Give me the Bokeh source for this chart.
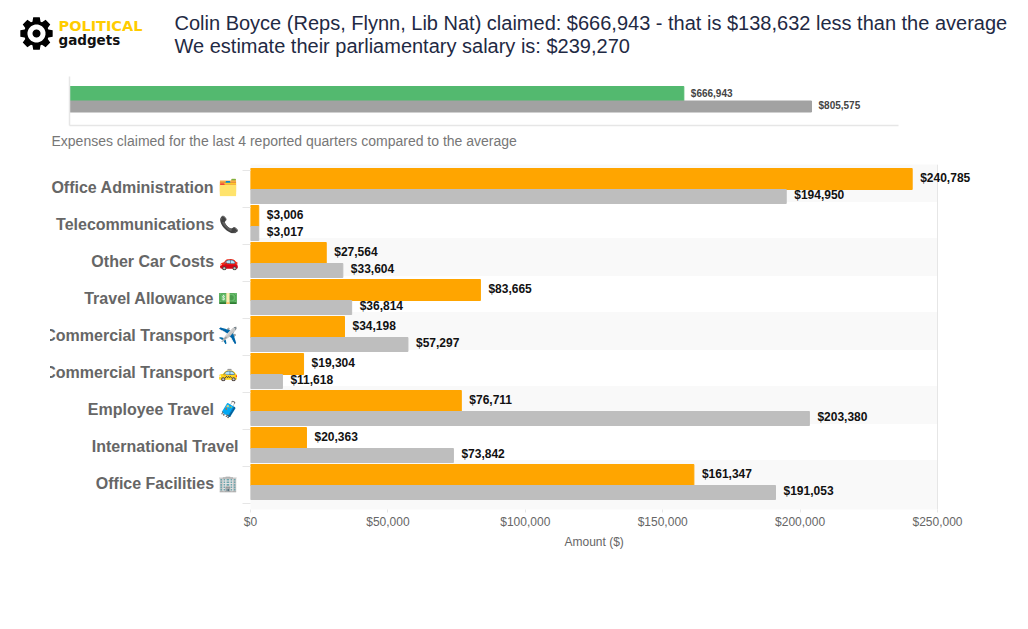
from bokeh.core.properties import value
from bokeh.embed import file_html
from bokeh.models import ColumnDataSource, FixedTicker, Label, NumeralTickFormatter, PolyAnnotation, Range1d, Title
from bokeh.plotting import figure
from bokeh.resources import INLINE
import math

FONT = "Liberation Sans"

total_values = [666943, 805575]
total_text = ["$666,943", "$805,575"]

categories = [
    "Office Administration 🗂️",
    "Telecommunications 📞",
    "Other Car Costs 🚗",
    "Travel Allowance 💵",
    "Commercial Transport ✈️",
    "Commercial Transport 🚕",
    "Employee Travel 🧳",
    "International Travel",
    "Office Facilities 🏢",
]
mp_values = [240785, 3006, 27564, 83665, 34198, 19304, 76711, 20363, 161347]
avg_values = [194950, 3017, 33604, 36814, 57297, 11618, 203380, 73842, 191053]
x_ticks = [0, 50000, 100000, 150000, 200000, 250000]

# ---------- top figure: whole canvas is the frame; page (0,0)..(1020,158)
TOP_H = 158
k = 900000 / 829
top = figure(width=1020, height=TOP_H, output_backend="svg", toolbar_location=None,
             x_range=Range1d(-69 * k, (1020 - 69) * k), y_range=Range1d(-33, 125),
             min_border=0)
top.xgrid.visible = False
top.ygrid.visible = False
top.outline_line_color = None
top.xaxis.visible = False
top.yaxis.visible = False
top.hbar(y=[31.5], right=total_values[:1], left=0, height=15, color="#53b96f")
top.hbar(y=[19], right=total_values[1:], left=0, height=11, color="#a2a2a2")
top.segment(x0=[0, 0], y0=[0, 0], x1=[0, 900000], y1=[49, 0], line_color="#e6e6e6", line_width=1.5)
top.text(x=total_values[:1], y=[32.5], text=total_text[:1], x_offset=7, text_baseline="middle",
         text_font=value(FONT), text_font_size="10px", text_font_style="bold", text_color="#444444")
top.text(x=total_values[1:], y=[20], text=total_text[1:], x_offset=7, text_baseline="middle",
         text_font=value(FONT), text_font_size="10px", text_font_style="bold", text_color="#444444")

for txt, py in (("Colin Boyce (Reps, Flynn, Lib Nat) claimed: $666,943 - that is $138,632 less than the average", 22),
                ("We estimate their parliamentary salary is: $239,270", 45)):
    top.add_layout(Label(x=174, y=TOP_H - py, x_units="screen", y_units="screen", text=txt,
                         text_font=FONT, text_font_size="20px", text_color="#1f2a44", text_baseline="middle"))
top.add_layout(Label(x=51, y=TOP_H - 140, x_units="screen", y_units="screen",
                     text="Expenses claimed for the last 4 reported quarters compared to the average",
                     text_font=FONT, text_font_size="14px", text_color="#777777", text_baseline="middle"))
top.add_layout(Label(x=58, y=TOP_H - 25, x_units="screen", y_units="screen", text="POLITICAL",
                     text_font="DejaVu Sans", text_font_style="bold", text_font_size="14.5px",
                     text_color="#ffcc00", text_baseline="middle"))
top.add_layout(Label(x=58, y=TOP_H - 39, x_units="screen", y_units="screen", text="gadgets",
                     text_font="DejaVu Sans", text_font_style="bold", text_font_size="13.5px",
                     text_color="#111111", text_baseline="middle"))


# logo gear: page centre (36, 33)
def ring(r, n=48):
    return ([36 + r * math.cos(2 * math.pi * i / n) for i in range(n)],
            [TOP_H - 33 + r * math.sin(2 * math.pi * i / n) for i in range(n)])


def gear():
    xs, ys = [], []
    teeth = 8
    for t in range(teeth):
        a = 2 * math.pi * t / teeth
        for da, r in ((-0.33, 12.5), (-0.2, 16.5), (0.2, 16.5), (0.33, 12.5)):
            xs.append(36 + r * math.cos(a + da))
            ys.append(TOP_H - 33 + r * math.sin(a + da))
    return xs, ys


for (gx, gy), colour in ((gear(), "#000000"), (ring(9), "#ffffff"), (ring(4), "#000000")):
    top.add_layout(PolyAnnotation(xs=gx, ys=gy, xs_units="screen", ys_units="screen",
                                  fill_color=colour, fill_alpha=1, line_color=None))

# ---------- bottom figure: frame x 251..1020, y 164..509, canvas at page (41, 158)
rows = list(range(len(categories)))
PITCH = 37
x_per_px = 250000 / 687
bottom = figure(frame_width=769, frame_height=345, output_backend="svg", toolbar_location=None,
                x_range=Range1d(0, 769 * x_per_px),
                y_range=Range1d(8 + 26 / PITCH, -23 / PITCH),
                min_border_left=0, min_border_right=0, min_border_top=6, min_border_bottom=0)
bottom.margin = (0, 0, 0, 41)
bottom.styles = {"clip-path": "inset(0 0 0 9px)"}
bottom.outline_line_color = None
bottom.ygrid.visible = False
bottom.xgrid.ticker = FixedTicker(ticks=x_ticks[-1:])
bottom.xgrid.grid_line_color = "#e6e6e6"

band_rows = rows[::2]
band_top = [r - 23 / PITCH for r in band_rows]
band_bottom = [t + 1 for t in band_top[:-1]] + [8 + 26 / PITCH]
bottom.quad(left=0, right=x_ticks[-1], top=band_top, bottom=band_bottom, color="#f9f9f9", level="underlay")

src = ColumnDataSource(dict(row=rows,
                            y_mp=[r - 8.5 / PITCH for r in rows], y_avg=[r + 9 / PITCH for r in rows],
                            t_mp=[r - 10 / PITCH for r in rows], t_avg=[r + 7 / PITCH for r in rows],
                            mp=mp_values, avg=avg_values,
                            mp_text=[f"${v:,}" for v in mp_values],
                            avg_text=[f"${v:,}" for v in avg_values]))
r1 = bottom.hbar(y="y_mp", right="mp", left=0, height=21 / PITCH, color="#ffa500", source=src,
                 legend_label="Colin Boyce  (Reps, Flynn, Lib Nat)")
r2 = bottom.hbar(y="y_avg", right="avg", left=0, height=14 / PITCH, color="#bebebe", source=src,
                 legend_label="Average MP")
for x, y, t in (("mp", "t_mp", "mp_text"), ("avg", "t_avg", "avg_text")):
    bottom.text(x=x, y=y, text=t, x_offset=8, text_baseline="middle", source=src,
                text_font=value(FONT), text_font_size="12px", text_font_style="bold", text_color="#111111")

bottom.xaxis.ticker = FixedTicker(ticks=x_ticks)
bottom.xaxis.formatter = NumeralTickFormatter(format="$0,0")
bottom.xaxis.major_label_standoff = 2
bottom.xaxis.major_label_text_font = FONT
bottom.xaxis.major_label_text_font_size = "12px"
bottom.xaxis.major_label_text_color = "#666666"
bottom.xaxis.axis_line_color = None
bottom.xaxis.major_tick_line_color = "#e6e6e6"
bottom.xaxis.major_tick_out = 3
bottom.xaxis.major_tick_in = 0
bottom.xaxis.minor_tick_line_color = None

bottom.add_layout(Title(text="Amount ($)", text_font=FONT, text_font_style="normal", text_font_size="12px",
                        text_color="#666666", align="left", offset=314, standoff=3), "below")

bottom.yaxis.ticker = FixedTicker(ticks=rows, minor_ticks=[r - 0.5 + 1 / PITCH for r in rows] + [rows[-1] + 0.5 + 1 / PITCH])
bottom.yaxis.major_label_overrides = dict(zip(rows, categories))
bottom.yaxis.major_label_text_font = FONT
bottom.yaxis.major_label_text_font_size = "16px"
bottom.yaxis.major_label_text_font_style = "bold"
bottom.yaxis.major_label_text_color = "#666666"
bottom.yaxis.axis_line_color = None
bottom.yaxis.major_tick_line_color = None
bottom.yaxis.major_tick_out = 0
bottom.yaxis.major_tick_in = 0
bottom.yaxis.minor_tick_line_color = "#e6e6e6"
bottom.yaxis.minor_tick_out = 8
bottom.yaxis.minor_tick_in = 0
bottom.yaxis.major_label_standoff = 4

legend = bottom.legend[0]
bottom.legend.remove(legend) if False else None
bottom.center.remove(legend)
bottom.add_layout(legend, "below")
legend.location = (60, 0)
legend.orientation = "horizontal"
legend.border_line_color = None
legend.background_fill_alpha = 0
legend.padding = 0
legend.margin = 14
legend.spacing = 10
legend.label_standoff = 7
legend.label_text_font = FONT
legend.label_text_font_size = "12px"
legend.label_text_color = "#666666"
legend.glyph_width = 50
legend.glyph_height = 15

open("out.html", "w").write(file_html([top, bottom], INLINE))
